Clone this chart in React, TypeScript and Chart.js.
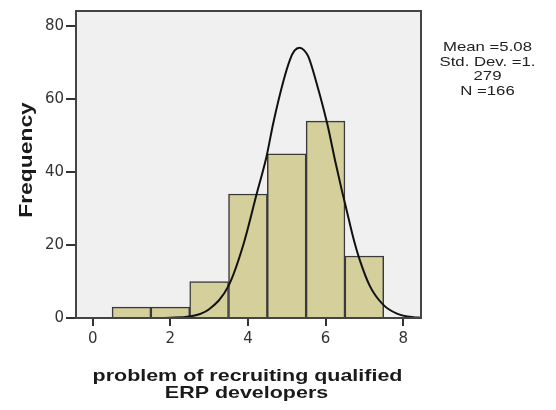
import React, { useEffect, useRef } from "react";
import { Chart, registerables } from "chart.js";

Chart.register(...registerables);

const binCenters = [1, 2, 3, 4, 5, 6, 7];
const frequencies = [3, 3, 10, 34, 45, 54, 17];

const curveX = [-0.43, 0.5, 1.5, 2.0, 2.5, 3.0, 3.5, 3.88, 4.23, 4.48, 4.65, 4.91, 5.09, 5.2, 5.33, 5.45, 5.56, 5.77, 6.05, 6.25, 6.42, 6.53, 6.72, 6.87, 7.15, 7.49, 7.84, 8.26, 8.46];
const curveY = [0, 0, 0, 0.1, 0.4, 2.4, 8.8, 20.0, 34.2, 44.3, 53.3, 64.8, 71.0, 73.3, 74.1, 73.4, 71.6, 64.4, 53.0, 43.0, 35.0, 30.2, 21.8, 16.3, 8.6, 3.6, 1.2, 0.2, 0.1];

const xTicks = [0, 2, 4, 6, 8];
const yTicks = [0, 20, 40, 60, 80];

const yTitle = "Frequency";
const xTitleLines = ["problem of recruiting qualified", "ERP developers"];
const statsLines = ["Mean =5.08", "Std. Dev. =1.", "279", "N =166"];

function drawStretched(ctx: CanvasRenderingContext2D, text: string, x: number, y: number, font: string, sx: number, rot = 0) {
  ctx.save();
  ctx.translate(x, y);
  if (rot) ctx.rotate(rot);
  ctx.scale(sx, 1);
  ctx.font = font;
  ctx.textAlign = "center";
  ctx.textBaseline = "alphabetic";
  ctx.fillText(text, 0, 0);
  ctx.restore();
}

const decorPlugin = {
  id: "decor",
  beforeDraw(chart: any) {
    const { ctx, chartArea: a } = chart;
    ctx.save();
    ctx.fillStyle = "#f0f0f0";
    ctx.fillRect(a.left, a.top, a.right - a.left, a.bottom - a.top);
    ctx.restore();
  },
  afterDatasetsDraw(chart: any) {
    const { ctx, chartArea: a } = chart;
    ctx.save();
    ctx.strokeStyle = "#444";
    ctx.lineWidth = 2;
    ctx.strokeRect(a.left, a.top, a.right - a.left, a.bottom - a.top);
    ctx.restore();
  },
  afterDraw(chart: any) {
    const { ctx } = chart;
    ctx.save();
    ctx.fillStyle = "#1a1a1a";
    drawStretched(ctx, yTitle, 32, 160, "bold 18px 'Liberation Sans', Arial, sans-serif", 1.27, -Math.PI / 2);
    drawStretched(ctx, xTitleLines[0], 247.5, 381, "bold 16.5px 'Liberation Sans', Arial, sans-serif", 1.3);
    drawStretched(ctx, xTitleLines[1], 246.5, 398, "bold 16.5px 'Liberation Sans', Arial, sans-serif", 1.3);
    ctx.fillStyle = "#222";
    const baselines = [50.5, 65.5, 80, 95];
    statsLines.forEach((t, i) => {
      drawStretched(ctx, t, 487.5, baselines[i], "13.5px 'Liberation Sans', Arial, sans-serif", 1.24);
    });
    ctx.restore();
  },
};

export default function App() {
  const ref = useRef<HTMLCanvasElement | null>(null);
  useEffect(() => {
    if (!ref.current) return;
    const chart = new Chart(ref.current, {
      type: "bar",
      data: {
        datasets: [
          {
            type: "line",
            data: curveX.map((x, i) => ({ x, y: curveY[i] })),
            borderColor: "#111",
            borderWidth: 2,
            pointRadius: 0,
            cubicInterpolationMode: "monotone",
            fill: false,
            order: 0,
          } as any,
          {
            type: "bar",
            data: binCenters.map((x, i) => ({ x, y: frequencies[i] })),
            backgroundColor: "#d4cf9b",
            borderColor: "#3a3a3a",
            borderWidth: 1.5,
            barPercentage: 1,
            categoryPercentage: 1,
            order: 1,
          } as any,
        ],
      },
      options: {
        animation: false,
        responsive: false,
        events: [],
        layout: { padding: { left: 0, top: 6, right: 135, bottom: 0 } },
        plugins: { legend: { display: false }, tooltip: { enabled: false } },
        scales: {
          x: {
            type: "linear",
            min: -0.43,
            max: 8.46,
            offset: false,
            afterFit: (s: any) => { s.height = 92; },
            afterBuildTicks: (s: any) => { s.ticks = xTicks.map((v) => ({ value: v })); },
            grid: { display: true, drawOnChartArea: false, offset: false, color: "#333", lineWidth: 2, tickLength: 8 },
            border: { display: false },
            ticks: { color: "#333", padding: 4, font: { family: "'DejaVu Sans'", size: 15 }, autoSkip: false, maxRotation: 0 },
          },
          y: {
            type: "linear",
            min: 0,
            max: 84.2,
            afterFit: (s: any) => { s.width = 76; },
            afterBuildTicks: (s: any) => { s.ticks = yTicks.map((v) => ({ value: v })); },
            grid: { display: true, drawOnChartArea: false, color: "#333", lineWidth: 2, tickLength: 10 },
            border: { display: false },
            ticks: { color: "#333", padding: 2, font: { family: "'DejaVu Sans'", size: 15 } },
          },
        },
      } as any,
      plugins: [decorPlugin],
    });
    return () => chart.destroy();
  }, []);
  return (
    <div style={{ position: "fixed", left: 0, top: 0, width: 556, height: 410, background: "#fff" }}>
      <canvas ref={ref} width={556} height={410} style={{ width: 556, height: 410, display: "block" }} />
    </div>
  );
}
